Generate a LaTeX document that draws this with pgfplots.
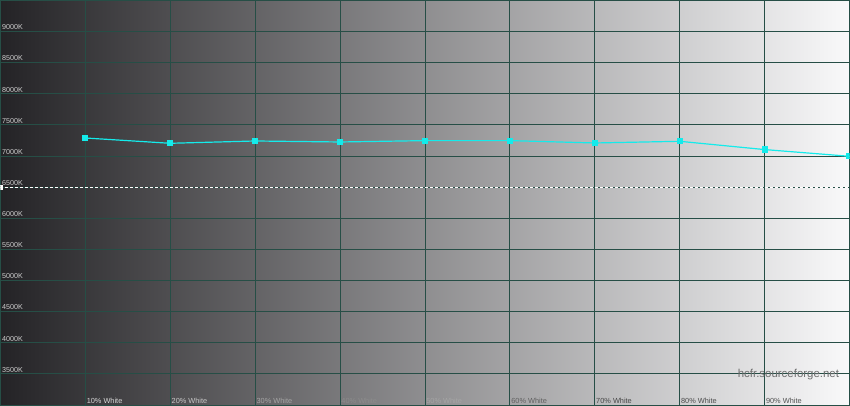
\documentclass[border=0pt]{standalone}
\usepackage{pgfplots}
\pgfplotsset{compat=1.18}
\usepackage{fontspec}
\setmainfont{Liberation Sans}
\definecolor{gridc}{RGB}{38,78,70}
\definecolor{bgl}{RGB}{36,35,38}
\definecolor{bgr}{RGB}{249,249,250}
\definecolor{cy}{RGB}{20,235,235}
\definecolor{lab}{RGB}{205,205,205}
\begin{document}
\begin{tikzpicture}
\begin{axis}[
  scale only axis,
  width=850bp, height=405bp,
  xmin=0, xmax=100, ymin=3000, ymax=9500,
  axis background/.style={shade, left color=bgl, right color=bgr},
  axis line style={draw=gridc, line width=0.8bp},
  grid=major,
  major grid style={draw=gridc, line width=0.9bp},
  major tick length=0pt,
  xtick={10,20,...,90},
  ytick={3500,4000,...,9000},
  yticklabels={3500K,4000K,4500K,5000K,5500K,6000K,6500K,7000K,7500K,8000K,8500K,9000K},
  xticklabels={
    \textcolor[RGB]{215,215,215}{10\% White},
    \textcolor[RGB]{200,200,200}{20\% White},
    \textcolor[RGB]{165,165,165}{30\% White},
    \textcolor[RGB]{140,140,140}{40\% White},
    \textcolor[RGB]{165,165,165}{50\% White},
    \textcolor[RGB]{95,95,95}{60\% White},
    \textcolor[RGB]{70,70,70}{70\% White},
    \textcolor[RGB]{75,75,75}{80\% White},
    \textcolor[RGB]{80,80,80}{90\% White}},
  yticklabel style={anchor=south west, inner sep=1.5bp, font=\fontsize{7.2}{8}\selectfont, text=lab},
  xticklabel style={anchor=south west, inner sep=1.2bp, font=\fontsize{7.4}{8}\selectfont},
  clip marker paths=true,
]
\addplot[white, dash pattern=on 3bp off 2bp, line width=0.8bp, forget plot] coordinates {(0,6500) (100,6500)};
\addplot[only marks, mark=square*, mark size=2bp, white, forget plot] coordinates {(0,6500)};
\addplot[cy, line width=1.2bp, mark=square*, mark size=2.5bp, mark options={fill=cy, draw=cy}] coordinates {
  (10,7290) (20,7205) (30,7242) (40,7226) (50,7248) (60,7248) (70,7210) (80,7237) (90,7104) (100,6996)};
\node[text={rgb,255:red,110;green,110;blue,110}, font=\fontsize{11.5}{13}\selectfont] at (axis cs:92.8,3490) {hcfr.sourceforge.net};
\end{axis}
\end{tikzpicture}
\end{document}
